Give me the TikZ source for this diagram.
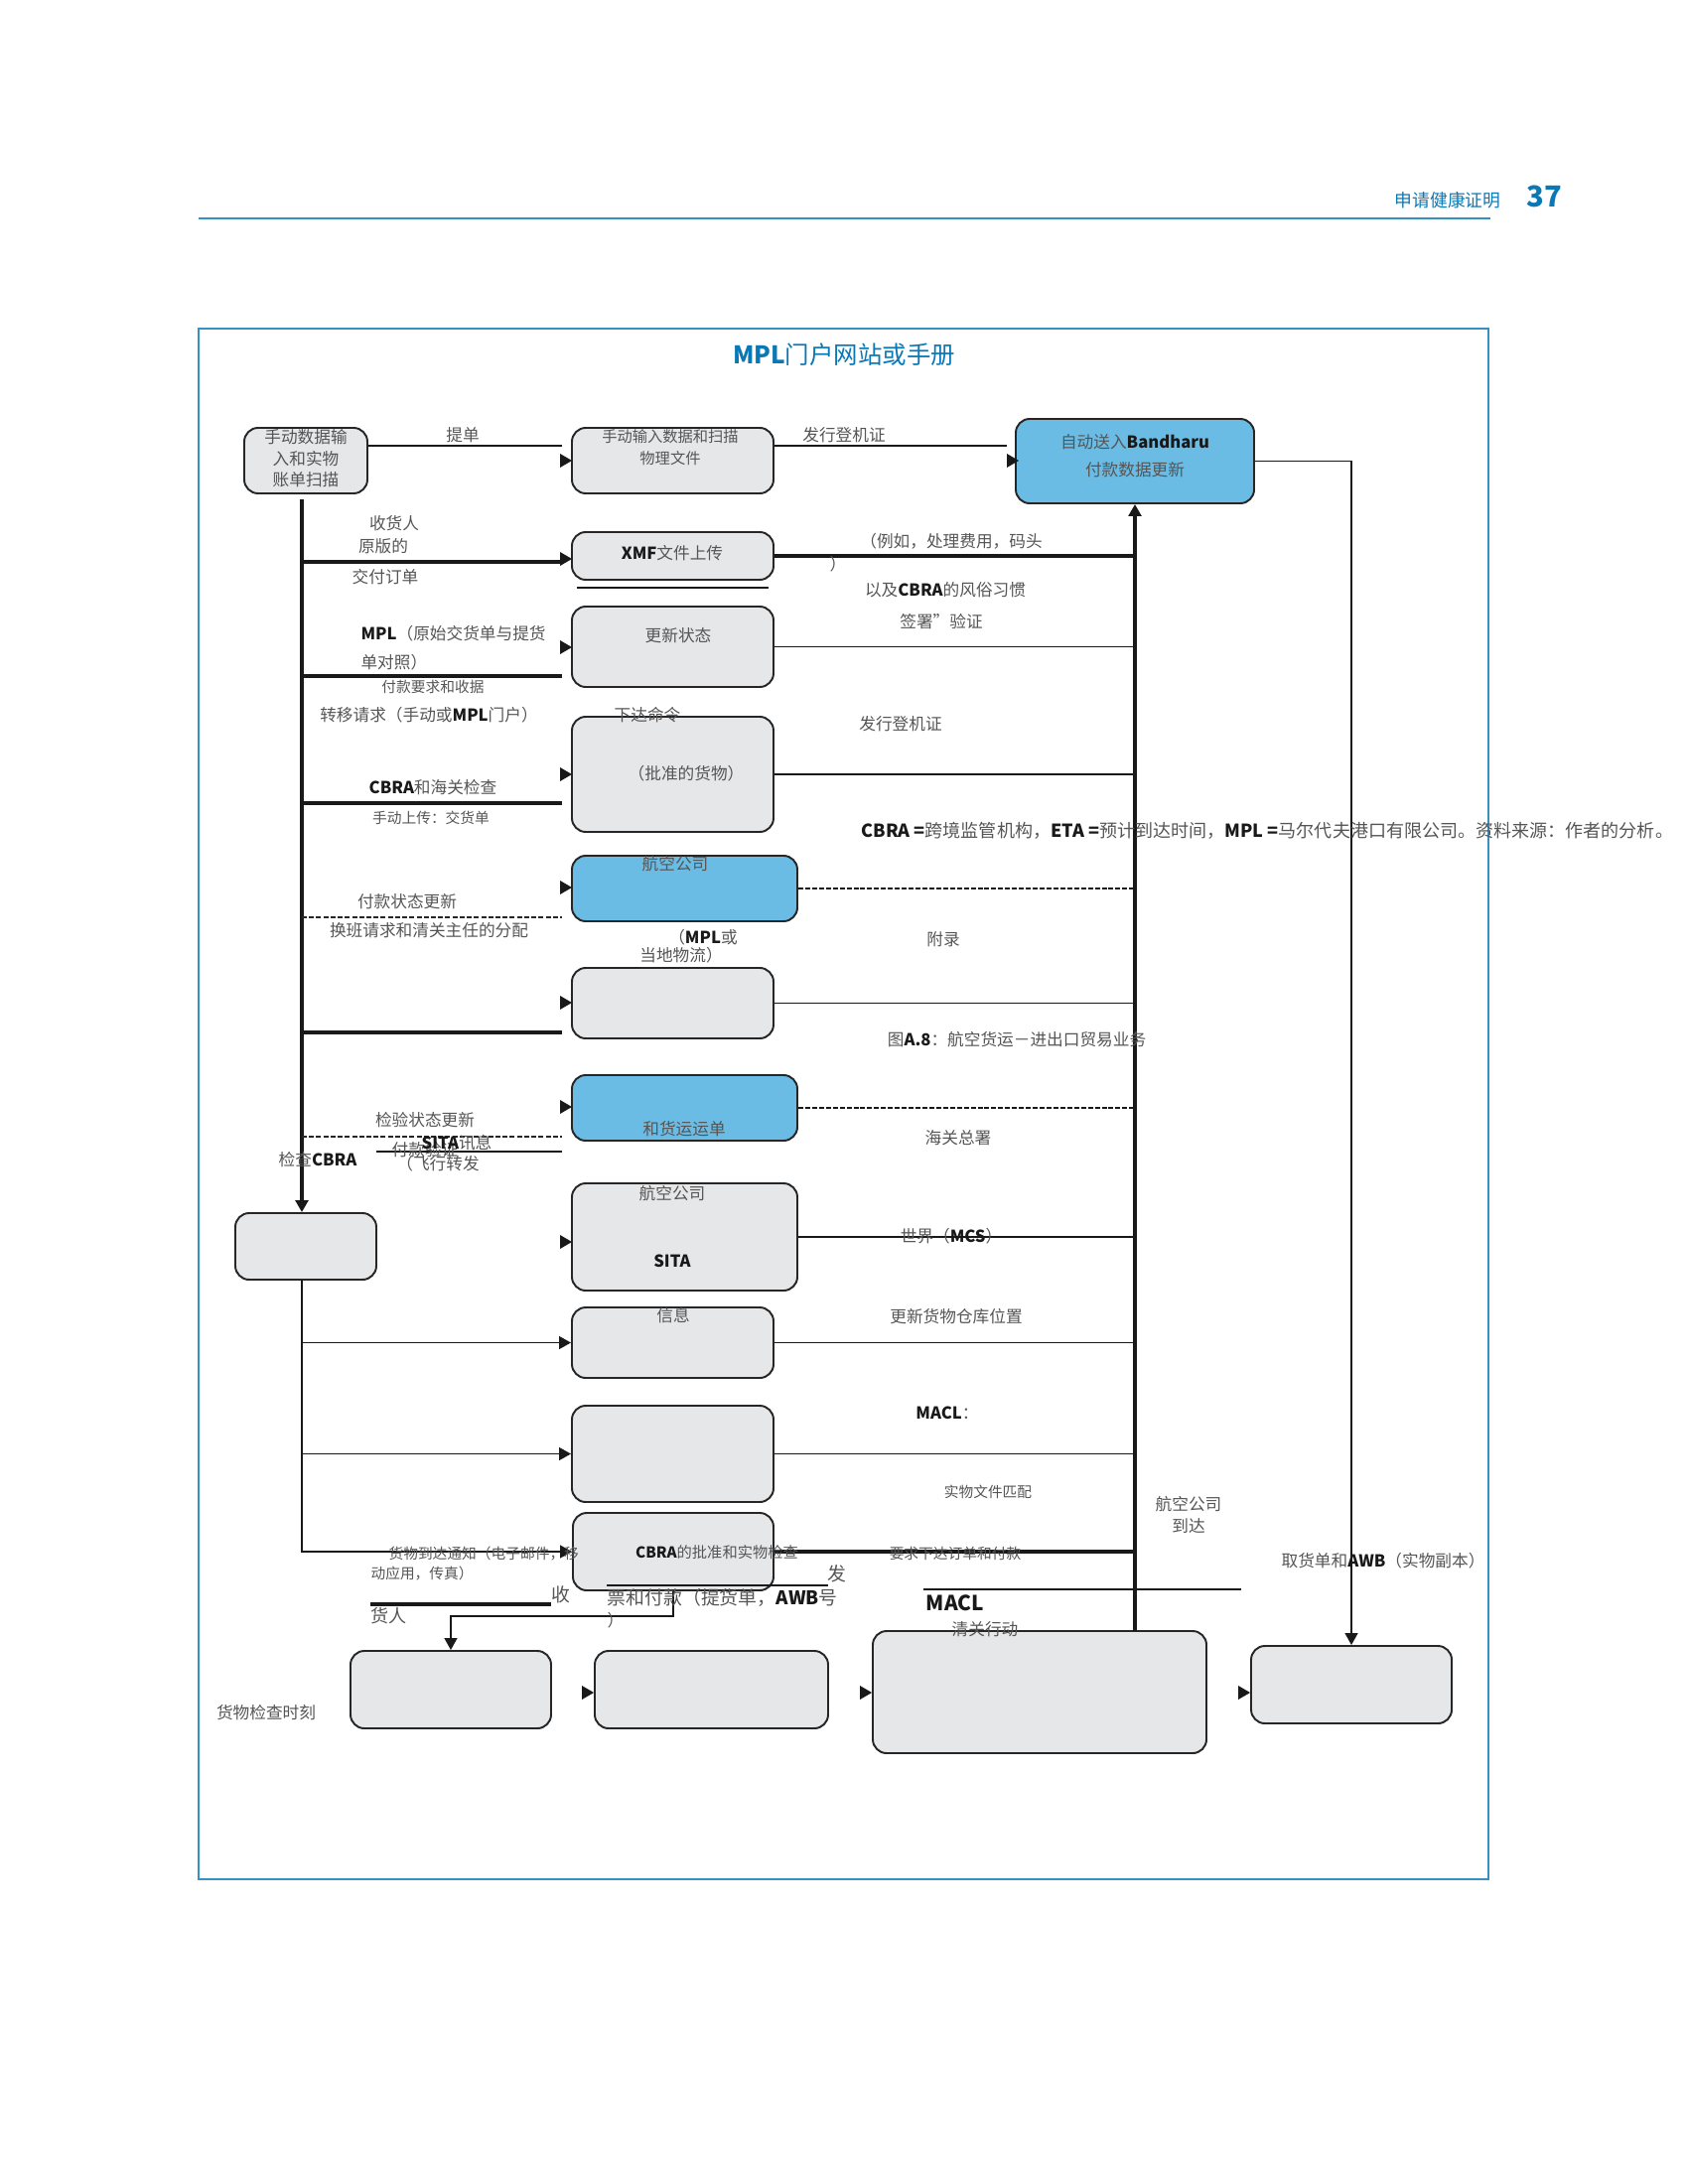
\documentclass[tikz,border=0pt]{standalone}
\usepackage{fontspec}
\setmainfont{Noto Sans CJK SC}
\usetikzlibrary{fit,arrows.meta}
\definecolor{boxgray}{RGB}{230,231,232}
\definecolor{skyblue}{RGB}{107,188,228}
\definecolor{framecol}{RGB}{55,145,190}
\definecolor{headblue}{RGB}{10,120,180}
\definecolor{ink}{RGB}{85,85,85}
\newcommand\mybf[1]{{\bfseries\color{black!90}#1}}
\tikzset{
  box/.style={draw=black!85, line width=0.7pt, rounded corners=5pt, fill=boxgray, inner sep=0pt},
  bluebox/.style={box, fill=skyblue},
  lbl/.style={font=\fontsize{6}{7.8}\selectfont, text=ink, inner sep=0pt, align=center},
  small/.style={font=\fontsize{5.3}{7}\selectfont},
  lbll/.style={lbl, anchor=west, align=left},
  ln/.style={draw=black!90, line width=0.7pt},
  thk/.style={draw=black!90, line width=1.2pt},
  dsh/.style={draw=black!85, line width=0.6pt, dash pattern=on 1.8pt off 0.8pt},
  dshthk/.style={draw=black!90, line width=0.9pt, dash pattern=on 1.8pt off 0.7pt},
  tipped/.style={-{Triangle[length=4.3pt,width=4.6pt]}},
  arrowhd/.pic={\fill[black!90] (0,0) -- (-12,-7) -- (-12,7) -- cycle;}
}
\begin{document}
\begin{tikzpicture}[x=0.36pt,y=-0.36pt]
\useasboundingbox (0,0) rectangle (1700,2200);

% running head
\draw[framecol,line width=0.8pt] (200,220) -- (1501,220);
\node[lbl,text=headblue,font=\fontsize{6.4}{7.8}\selectfont] (runhead) at (1458,202) {申请健康证明};
\node[lbl,text=headblue,font=\fontsize{10.5}{12}\selectfont\bfseries] (pagenum) at (1555,198) {37};

% figure frame and title
\draw[framecol,line width=0.6pt] (200,331) rectangle (1499,1893);
\node[lbl,text=headblue,font=\fontsize{8.8}{10}\selectfont] (title) at (850,357) {{\bfseries MPL}门户网站或手册};

% process boxes
\node[box, fit={(246,431) (370,497)}] (B1) {};
\node[box, fit={(576,431) (779,497)}] (B2) {};
\node[bluebox, fit={(1023,422) (1263,507)}] (B3) {};
\node[box, fit={(576,536) (779,584)}] (B4) {};
\node[box, fit={(576,611) (779,692)}] (B5) {};
\node[box, fit={(576,722) (779,838)}] (B6) {};
\node[bluebox, fit={(576,862) (803,928)}] (B7) {};
\node[box, fit={(576,975) (779,1046)}] (B8) {};
\node[bluebox, fit={(576,1083) (803,1149)}] (B9) {};
\node[box, fit={(576,1192) (803,1300)}] (B10) {};
\node[box, fit={(576,1317) (779,1388)}] (B11) {};
\node[box, fit={(576,1416) (779,1513)}] (B12) {};
\node[box, fit={(577,1524) (779,1602)}] (B13) {};
\node[box, fit={(237,1222) (379,1289)}] (L) {};
\node[box, fit={(353,1663) (555,1741)}] (BB1) {};
\node[box, fit={(599,1663) (834,1741)}] (BB2) {};
\node[box, fit={(879,1643) (1215,1766)}] (BB3) {};
\node[box, fit={(1260,1658) (1462,1736)}] (BB4) {};

% trunk lines
\coordinate (t1) at (304,503);
\coordinate (t2) at (1143,1643);
\coordinate (t3) at (304,1289);
\draw[thk,tipped] (t1) -- (t1 |- L.north);
\draw[thk,tipped] (t2) -- (t2 |- B3.south);
\draw[ln,tipped] (B3.east) -| (BB4.north);

% top row
\draw[ln] (B1.east |- 0,449) -- (566,449);
\pic at (576,464) {arrowhd};
\draw[ln] (B2.east |- 0,449) -- (1014,449);
\pic at (1026,464) {arrowhd};

% feeds from the left trunk
\draw[thk] (t1 |- 0,566) -- (566,566);
\pic at (576,563) {arrowhd};
\draw[ln] (581,592) -- (774,592);
\draw[thk] (t1 |- 0,681) -- (566,681);
\pic at (576,652) {arrowhd};
\draw[thk] (t1 |- 0,809) -- (566,809);
\pic at (576,780) {arrowhd};
\draw[dsh] (t1 |- 0,924) -- (566,924);
\pic at (576,894) {arrowhd};
\draw[thk] (t1 |- 0,1040) -- (566,1040);
\pic at (576,1010) {arrowhd};
\draw[dsh] (t1 |- 0,1145) -- (566,1145);
\draw[ln] (379,1160) -- (566,1160);
\pic at (576,1115) {arrowhd};
\pic at (576,1251) {arrowhd};

% lower branch
\draw[ln,tipped] (t3) |- (B13.west);
\draw[ln,tipped] (t3 |- B11.west) -- (B11.west);
\draw[ln,tipped] (t3 |- B12.west) -- (B12.west);

% feeds into the right trunk
\draw[thk] (B4.east) -- (t2 |- B4.east);
\draw[ln] (B5.east) -- (t2 |- B5.east);
\draw[ln] (B6.east) -- (t2 |- B6.east);
\draw[dshthk] (B7.east) -- (t2 |- B7.east);
\draw[ln] (B8.east) -- (t2 |- B8.east);
\draw[dshthk] (B9.east) -- (t2 |- B9.east);
\draw[ln] (B10.east) -- (t2 |- B10.east);
\draw[ln] (B11.east) -- (t2 |- B11.east);
\draw[ln] (B12.east) -- (t2 |- B12.east);
\draw[thk] (B13.east) -- (t2 |- B13.east);
\draw[ln] (930,1601) -- (1250,1601);

% bottom row
\draw[ln,tipped] (B13.south) -- (B13.south |- 0,1628) -| (BB1.north);
\draw[thk] (373,1616) -- (555,1616);
\draw[ln] (611,1597) -- (834,1597);
\pic at (BB2.west |- 0,1705) {arrowhd};
\pic at (BB3.west |- 0,1705) {arrowhd};
\pic at (BB4.west |- 0,1705) {arrowhd};

% texts
\node[lbl] (tB1) at (308,462) {手动数据输\\入和实物\\账单扫描};
\node[lbl] (tTidan) at (466,438) {提单};
\node[lbl,small,font=\fontsize{5.5}{7.8}\selectfont] (tB2) at (675,451) {手动输入数据和扫描\\物理文件};
\node[lbl] (tFx1) at (850,438) {发行登机证};
\node[lbl] (tB3a) at (1143,445) {自动送入\mybf{Bandharu}};
\node[lbl] (tB3b) at (1143,473) {付款数据更新};
\node[lbl] (tShr) at (397,527) {收货人};
\node[lbl] (tYbd) at (386,550) {原版的};
\node[lbl] (tJfd) at (388,581) {交付订单};
\node[lbl] (tB4) at (677,557) {\mybf{XMF}文件上传};
\node[lbl] (tLiru) at (958,545) {（例如，处理费用，码头};
\node[lbl] (tParen1) at (844,568) {）};
\node[lbl] (tYiji) at (952,594) {以及\mybf{CBRA}的风俗习惯};
\node[lbl] (tQsh) at (948,626) {签署”验证};
\node[lbl] (tB5) at (683,640) {更新状态};
\node[lbll] (tMpl1) at (363,638) {\mybf{MPL}（原始交货单与提货};
\node[lbll] (tMpl2) at (363,667) {单对照）};
\node[lbl,small] (tFkyq) at (436,692) {付款要求和收据};
\node[lbl] (tZyqq) at (432,720) {转移请求（手动或\mybf{MPL}门户）};
\node[lbl] (tXdml) at (652,720) {下达命令};
\node[lbl] (tB6) at (691,779) {（批准的货物）};
\node[lbl] (tFx2) at (907,729) {发行登机证};
\node[lbl] (tCbra1) at (436,793) {\mybf{CBRA}和海关检查};
\node[lbl,small] (tSdsc) at (434,824) {手动上传：交货单};
\node[lbll,font=\fontsize{6.5}{7.8}\selectfont] (tNote) at (867,837) {\mybf{CBRA =}跨境监管机构，\mybf{ETA =}预计到达时间，\mybf{MPL =}马尔代夫港口有限公司。资料来源：作者的分析。};
\node[lbl] (tB7) at (680,870) {航空公司};
\node[lbl] (tFkzt) at (410,908) {付款状态更新};
\node[lbl] (tHbqq) at (432,937) {换班请求和清关主任的分配};
\node[lbl] (tMplh) at (708,944) {（\mybf{MPL}或};
\node[lbl] (tDdwl) at (686,962) {当地物流）};
\node[lbl] (tFulu) at (950,946) {附录};
\node[lbl] (tFig) at (1024,1047) {图\mybf{A.8}：航空货运－进出口贸易业务};
\node[lbl] (tJyzt) at (428,1128) {检验状态更新};
\node[lbl] (tB9) at (689,1137) {和货运运单};
\node[lbl] (tHgzs) at (965,1146) {海关总署};
\node[lbl] (tFkyz) at (428,1158) {付款验证};
\node[lbl] (tSita1) at (460,1151) {\mybf{SITA}讯息};
\node[lbl] (tFxzf) at (441,1172) {（飞行转发};
\node[lbl] (tJccb) at (320,1168) {检查\mybf{CBRA}};
\node[lbl] (tB10a) at (677,1202) {航空公司};
\node[lbl] (tB10b) at (677,1270) {\mybf{SITA}};
\node[lbl] (tMcs) at (958,1245) {世界（\mybf{MCS}）};
\node[lbl] (tB11) at (678,1325) {信息};
\node[lbl] (tGxhw) at (963,1326) {更新货物仓库位置};
\node[lbl] (tMacl1) at (954,1423) {\mybf{MACL}：};
\node[lbl,small] (tSwwj) at (995,1503) {实物文件匹配};
\node[lbl] (tHkgs) at (1197,1526) {航空公司\\到达};
\node[lbll,small] (tHwdd1) at (391,1565) {货物到达通知（电子邮件，移};
\node[lbll,small] (tHwdd2) at (373,1585) {动应用，传真）};
\node[lbl,font=\fontsize{5.5}{7}\selectfont] (tB13) at (722,1564) {\mybf{CBRA}的批准和实物检查};
\node[lbl,small] (tYqxd) at (962,1565) {要求下达订单和付款};
\node[lbl] (tQhd) at (1393,1572) {取货单和\mybf{AWB}（实物副本）};
\node[lbl,font=\fontsize{6.8}{8}\selectfont] (tFa) at (843,1585) {发};
\node[lbll,font=\fontsize{6.8}{8}\selectfont] (tPiao) at (611,1609) {票和付款（提货单，\mybf{AWB}号};
\node[lbll] (tParen2) at (611,1632) {）};
\node[lbl,font=\fontsize{6.8}{8}\selectfont] (tShou) at (565,1606) {收};
\node[lbll,font=\fontsize{6.5}{8}\selectfont] (tHr) at (373,1628) {货人};
\node[lbl,font=\fontsize{7.5}{9}\selectfont] (tMacl2) at (962,1615) {\mybf{MACL}};
\node[lbl] (tQgxd) at (992,1641) {清关行动};
\node[lbl] (tHwjc) at (268,1725) {货物检查时刻};
\end{tikzpicture}
\end{document}
